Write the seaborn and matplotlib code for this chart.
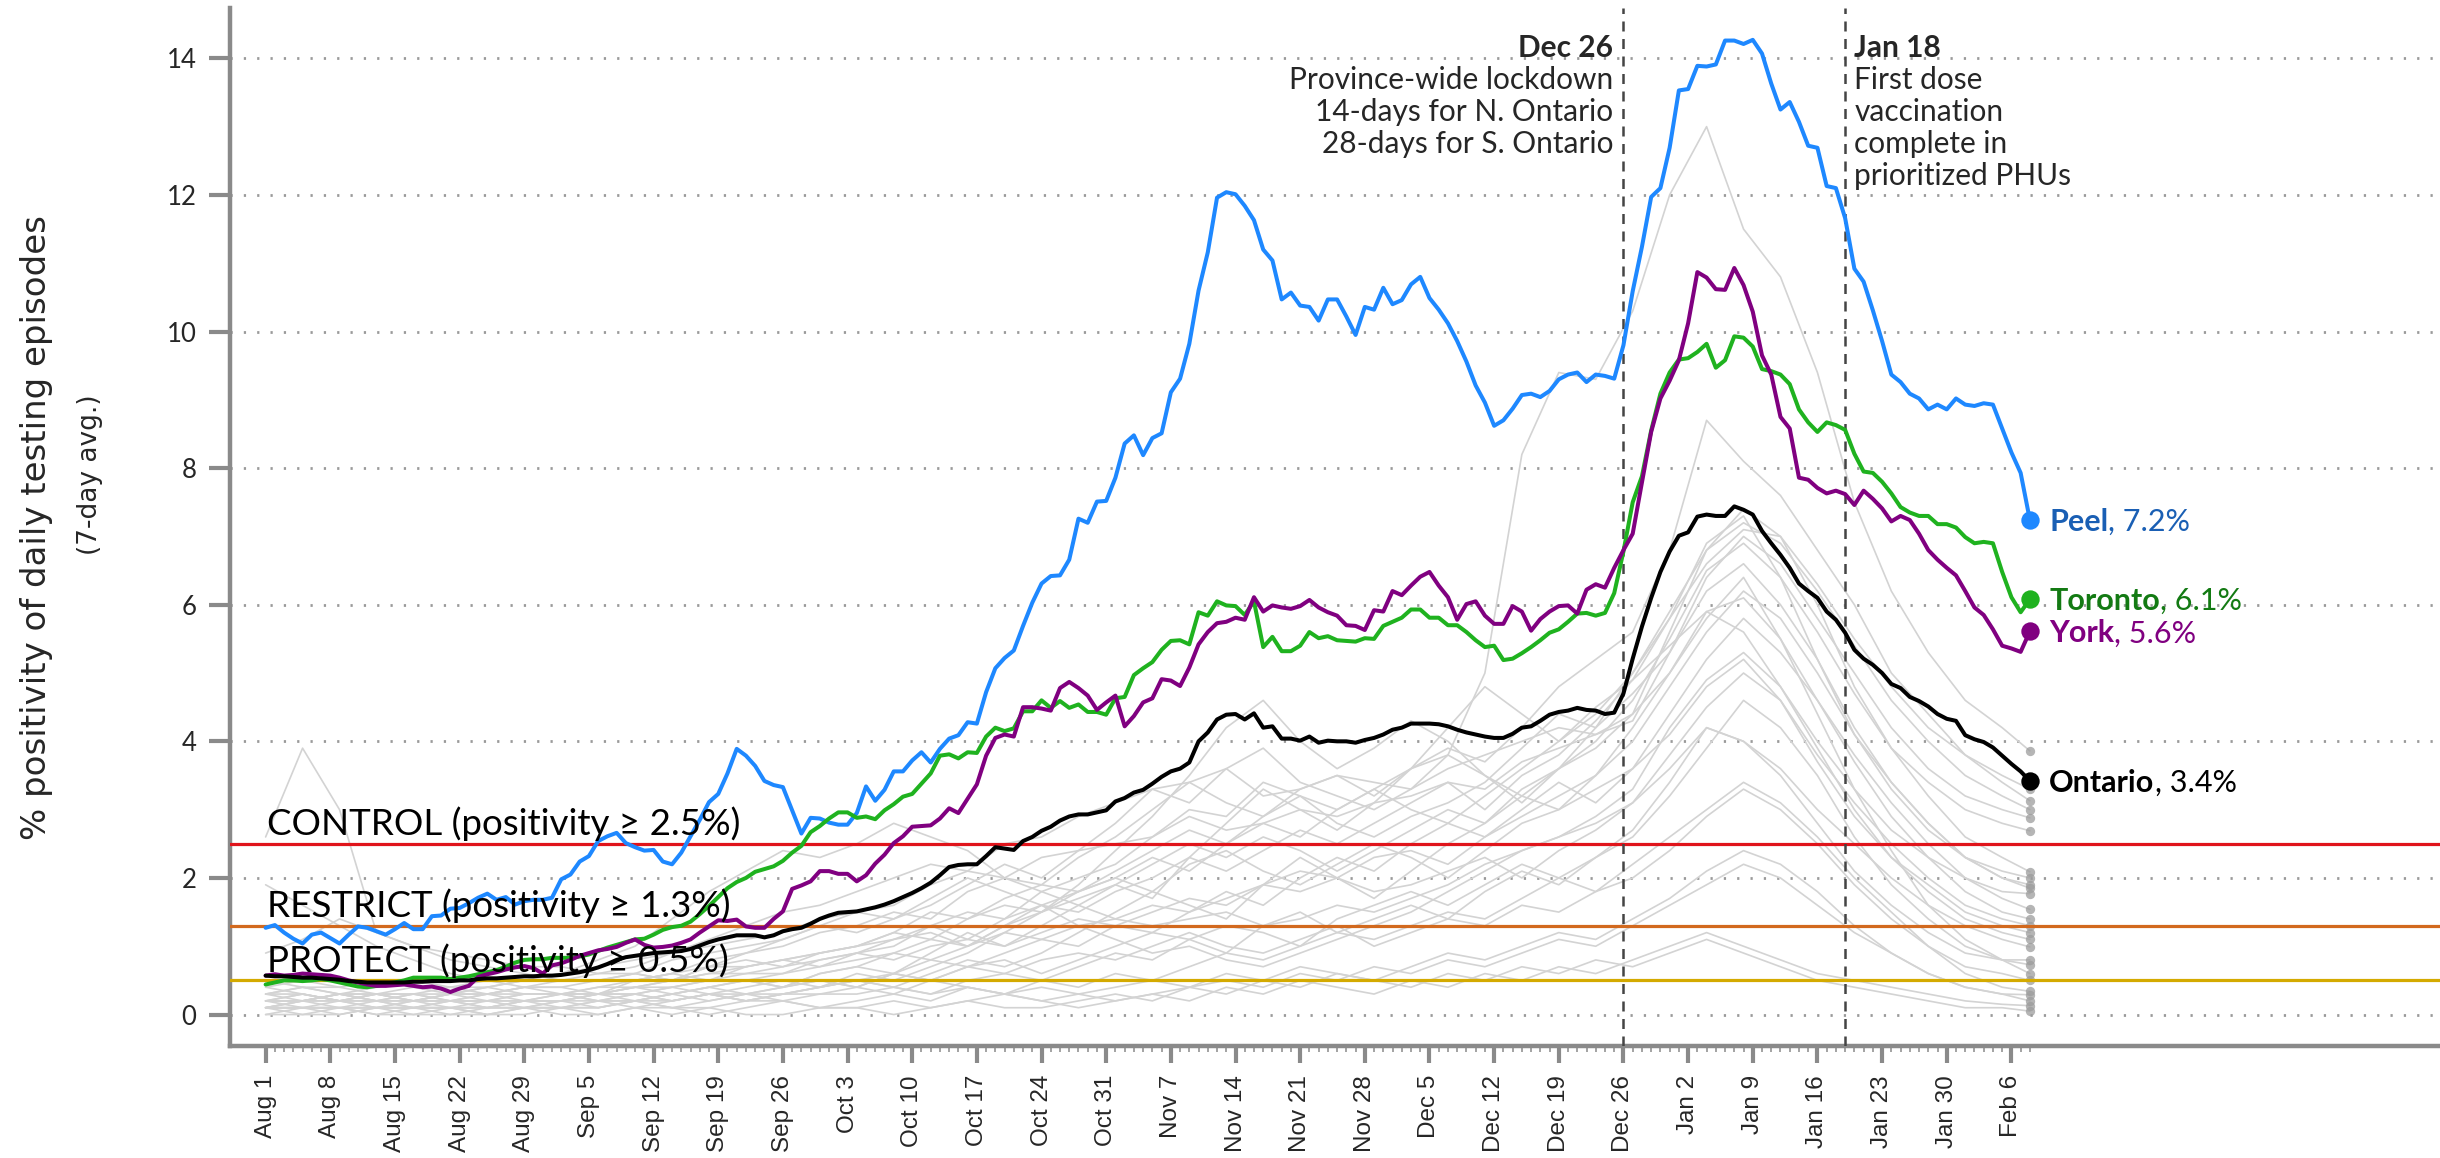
import pandas as pd
import matplotlib
matplotlib.use("Agg")
import matplotlib.pyplot as plt
import matplotlib.dates as mdates
from matplotlib.ticker import FixedLocator
import seaborn as sns

# --- data (7-day avg. % positivity) ---
START = "2020-08-01"
END = "2021-02-08"

PEEL = [
    1.27, 1.31, 1.20, 1.11, 1.04, 1.17, 1.20, 1.12, 1.04, 1.17,
    1.29, 1.27, 1.22, 1.17, 1.25, 1.34, 1.25, 1.25, 1.44, 1.45,
    1.55, 1.56, 1.63, 1.71, 1.77, 1.68, 1.72, 1.61, 1.66, 1.68,
    1.68, 1.71, 1.98, 2.05, 2.24, 2.32, 2.54, 2.61, 2.66, 2.51,
    2.45, 2.40, 2.41, 2.24, 2.20, 2.37, 2.61, 2.85, 3.11, 3.23,
    3.53, 3.89, 3.79, 3.64, 3.42, 3.36, 3.33, 2.99, 2.65, 2.88,
    2.87, 2.81, 2.78, 2.78, 2.95, 3.34, 3.13, 3.29, 3.56, 3.56,
    3.72, 3.84, 3.69, 3.89, 4.04, 4.09, 4.28, 4.26, 4.72, 5.07,
    5.22, 5.33, 5.69, 6.03, 6.31, 6.42, 6.43, 6.66, 7.26, 7.20,
    7.51, 7.52, 7.86, 8.36, 8.48, 8.19, 8.44, 8.51, 9.11, 9.31,
    9.82, 10.60, 11.16, 11.96, 12.04, 12.01, 11.84, 11.63, 11.20, 11.04,
    10.47, 10.57, 10.38, 10.36, 10.16, 10.47, 10.47, 10.22, 9.95, 10.36,
    10.32, 10.64, 10.40, 10.46, 10.69, 10.80, 10.49, 10.32, 10.12, 9.86,
    9.56, 9.21, 8.96, 8.62, 8.70, 8.87, 9.07, 9.09, 9.04, 9.13,
    9.30, 9.37, 9.40, 9.26, 9.37, 9.35, 9.31, 9.80, 10.59, 11.24,
    11.97, 12.10, 12.69, 13.53, 13.55, 13.89, 13.88, 13.91, 14.26, 14.26,
    14.21, 14.27, 14.07, 13.63, 13.25, 13.36, 13.07, 12.72, 12.69, 12.13,
    12.10, 11.66, 10.92, 10.73, 10.31, 9.86, 9.37, 9.26, 9.09, 9.02,
    8.86, 8.93, 8.86, 9.02, 8.93, 8.91, 8.95, 8.93, 8.58, 8.23,
    7.93, 7.24,
]
TORONTO = [
    0.44, 0.47, 0.50, 0.50, 0.49, 0.50, 0.52, 0.50, 0.47, 0.44,
    0.41, 0.40, 0.42, 0.45, 0.47, 0.50, 0.54, 0.54, 0.54, 0.54,
    0.52, 0.54, 0.56, 0.59, 0.62, 0.65, 0.70, 0.76, 0.80, 0.81,
    0.81, 0.83, 0.83, 0.83, 0.85, 0.88, 0.93, 0.98, 1.02, 1.06,
    1.10, 1.11, 1.17, 1.24, 1.28, 1.30, 1.36, 1.47, 1.59, 1.72,
    1.85, 1.94, 2.00, 2.09, 2.13, 2.17, 2.25, 2.37, 2.47, 2.67,
    2.76, 2.87, 2.96, 2.96, 2.88, 2.90, 2.86, 2.99, 3.08, 3.19,
    3.23, 3.38, 3.53, 3.79, 3.81, 3.75, 3.84, 3.83, 4.07, 4.20,
    4.15, 4.19, 4.44, 4.44, 4.60, 4.49, 4.59, 4.49, 4.54, 4.43,
    4.43, 4.39, 4.63, 4.65, 4.97, 5.07, 5.16, 5.34, 5.47, 5.48,
    5.42, 5.89, 5.84, 6.05, 5.99, 5.98, 5.85, 6.05, 5.38, 5.53,
    5.32, 5.32, 5.40, 5.60, 5.51, 5.54, 5.48, 5.47, 5.46, 5.51,
    5.50, 5.69, 5.75, 5.81, 5.93, 5.93, 5.81, 5.81, 5.70, 5.70,
    5.60, 5.48, 5.38, 5.40, 5.19, 5.21, 5.29, 5.38, 5.48, 5.59,
    5.64, 5.75, 5.87, 5.88, 5.84, 5.88, 6.17, 6.78, 7.50, 7.88,
    8.55, 9.09, 9.40, 9.59, 9.61, 9.70, 9.82, 9.47, 9.58, 9.93,
    9.91, 9.78, 9.45, 9.42, 9.37, 9.23, 8.86, 8.67, 8.53, 8.67,
    8.63, 8.56, 8.21, 7.95, 7.93, 7.80, 7.63, 7.43, 7.35, 7.30,
    7.30, 7.18, 7.18, 7.13, 6.99, 6.90, 6.92, 6.90, 6.48, 6.11,
    5.89, 6.08,
]
YORK = [
    0.57, 0.59, 0.57, 0.58, 0.60, 0.59, 0.58, 0.57, 0.54, 0.50,
    0.47, 0.44, 0.42, 0.42, 0.43, 0.44, 0.42, 0.40, 0.41, 0.38,
    0.33, 0.38, 0.42, 0.55, 0.59, 0.62, 0.66, 0.69, 0.71, 0.68,
    0.60, 0.72, 0.75, 0.80, 0.86, 0.90, 0.94, 0.96, 0.99, 1.05,
    1.10, 1.02, 0.98, 0.99, 1.01, 1.05, 1.10, 1.20, 1.29, 1.38,
    1.37, 1.39, 1.29, 1.27, 1.27, 1.40, 1.51, 1.84, 1.89, 1.95,
    2.10, 2.10, 2.06, 2.06, 1.95, 2.04, 2.21, 2.34, 2.51, 2.61,
    2.75, 2.76, 2.77, 2.87, 3.02, 2.95, 3.16, 3.37, 3.79, 4.05,
    4.10, 4.07, 4.50, 4.50, 4.48, 4.45, 4.78, 4.87, 4.78, 4.67,
    4.46, 4.57, 4.67, 4.22, 4.37, 4.57, 4.63, 4.91, 4.89, 4.81,
    5.08, 5.42, 5.60, 5.73, 5.75, 5.81, 5.78, 6.11, 5.90, 5.99,
    5.96, 5.94, 5.98, 6.07, 5.96, 5.89, 5.84, 5.70, 5.69, 5.63,
    5.92, 5.90, 6.20, 6.14, 6.28, 6.41, 6.48, 6.28, 6.11, 5.78,
    6.01, 6.05, 5.84, 5.72, 5.72, 5.98, 5.90, 5.62, 5.79, 5.90,
    5.98, 5.99, 5.87, 6.22, 6.30, 6.25, 6.54, 6.80, 7.04, 7.79,
    8.53, 9.02, 9.28, 9.58, 10.12, 10.87, 10.79, 10.62, 10.61, 10.93,
    10.68, 10.29, 9.65, 9.37, 8.75, 8.58, 7.86, 7.83, 7.71, 7.63,
    7.67, 7.62, 7.46, 7.67, 7.55, 7.41, 7.22, 7.30, 7.24, 7.04,
    6.80, 6.66, 6.54, 6.43, 6.20, 5.96, 5.85, 5.64, 5.40, 5.36,
    5.31, 5.61,
]
ONTARIO = [
    0.57, 0.56, 0.56, 0.55, 0.54, 0.54, 0.53, 0.52, 0.51, 0.49,
    0.48, 0.47, 0.47, 0.47, 0.47, 0.47, 0.48, 0.48, 0.49, 0.49,
    0.49, 0.50, 0.50, 0.52, 0.53, 0.53, 0.54, 0.55, 0.56, 0.56,
    0.57, 0.57, 0.58, 0.60, 0.62, 0.65, 0.69, 0.74, 0.80, 0.84,
    0.86, 0.88, 0.90, 0.91, 0.92, 0.93, 0.96, 1.01, 1.06, 1.10,
    1.13, 1.16, 1.16, 1.16, 1.13, 1.16, 1.22, 1.25, 1.27, 1.33,
    1.40, 1.45, 1.49, 1.50, 1.51, 1.54, 1.57, 1.61, 1.66, 1.72,
    1.78, 1.85, 1.93, 2.04, 2.16, 2.19, 2.20, 2.20, 2.32, 2.45,
    2.43, 2.41, 2.54, 2.60, 2.69, 2.75, 2.84, 2.90, 2.93, 2.93,
    2.96, 2.99, 3.12, 3.17, 3.25, 3.29, 3.38, 3.48, 3.56, 3.60,
    3.69, 4.00, 4.13, 4.32, 4.39, 4.40, 4.32, 4.41, 4.20, 4.22,
    4.04, 4.04, 4.01, 4.07, 3.98, 4.01, 4.00, 4.00, 3.98, 4.02,
    4.05, 4.10, 4.17, 4.20, 4.26, 4.26, 4.26, 4.25, 4.22, 4.17,
    4.13, 4.10, 4.07, 4.05, 4.05, 4.11, 4.20, 4.22, 4.30, 4.39,
    4.43, 4.45, 4.49, 4.46, 4.45, 4.40, 4.42, 4.70, 5.21, 5.68,
    6.10, 6.48, 6.78, 7.01, 7.06, 7.29, 7.32, 7.30, 7.30, 7.44,
    7.39, 7.32, 7.08, 6.90, 6.73, 6.54, 6.31, 6.20, 6.10, 5.90,
    5.78, 5.59, 5.34, 5.21, 5.12, 5.00, 4.84, 4.78, 4.65, 4.59,
    4.51, 4.40, 4.33, 4.30, 4.09, 4.03, 3.99, 3.91, 3.79, 3.67,
    3.56, 3.42,
]

# other public health units, sampled every 4 days (+ last day)
GREY_DAYS = list(range(0, 189, 4)) + [191]
GREY_01 = [2.6, 3.9, 3.0, 1.2, 1.0, 0.9, 0.8, 0.7, 0.7, 0.6, 0.6, 0.5, 0.6, 0.7, 0.8, 0.9,
           1.0, 1.1, 1.3, 1.5, 1.4, 1.8, 2.0, 2.2, 2.6, 3.0, 2.9, 3.4, 3.2, 3.0, 3.3,
           3.6, 3.8, 5.0, 8.2, 9.4, 9.3, 10.3, 12.0, 13.0, 11.5, 10.8, 9.4, 7.5, 6.2, 5.3, 4.6, 4.2, 3.86]
GREY_02 = [0.3, 0.3, 0.2, 0.3, 0.2, 0.2, 0.3, 0.3, 0.3, 0.4, 0.5, 0.6, 0.8, 0.9, 1.0, 1.2,
           1.3, 1.5, 1.4, 1.8, 2.0, 1.9, 2.3, 2.6, 3.0, 3.4, 3.1, 2.9, 3.3, 3.5, 3.2,
           3.6, 3.9, 3.7, 4.2, 4.8, 5.2, 5.6, 6.8, 8.7, 8.1, 7.6, 6.8, 6.0, 5.0, 4.4, 3.8, 3.4, 3.13]
GREY_03 = [0.5, 0.4, 0.4, 0.3, 0.3, 0.4, 0.4, 0.5, 0.6, 0.7, 0.8, 0.9, 1.1, 1.3, 1.5, 1.6,
           1.8, 2.0, 2.2, 2.1, 2.5, 2.6, 2.9, 3.1, 3.3, 3.4, 3.6, 3.2, 3.3, 3.5, 3.4,
           3.3, 3.6, 3.8, 4.0, 4.2, 4.1, 4.4, 5.6, 6.8, 7.2, 6.9, 6.2, 5.4, 4.6, 4.0, 3.5, 3.2, 3.0]
GREY_04 = [0.4, 0.5, 0.4, 0.5, 0.4, 0.4, 0.5, 0.5, 0.5, 0.6, 0.7, 0.9, 1.0, 1.1, 1.2, 1.4,
           1.5, 1.6, 1.9, 2.1, 2.0, 2.3, 2.4, 2.5, 2.6, 2.9, 2.7, 2.8, 3.0, 2.9, 3.1,
           3.2, 3.4, 3.3, 3.7, 3.9, 4.1, 4.3, 5.3, 6.4, 7.0, 6.6, 5.8, 5.0, 4.2, 3.6, 3.2, 3.0, 2.88]
GREY_05 = [0.3, 0.4, 0.3, 0.4, 0.5, 0.4, 0.3, 0.4, 0.5, 0.5, 0.6, 0.8, 0.9, 1.0, 1.1, 1.3,
           1.2, 1.4, 1.6, 1.9, 2.2, 2.0, 2.4, 2.8, 3.3, 3.1, 3.6, 3.9, 3.4, 3.2, 3.0,
           3.3, 3.8, 3.5, 3.1, 3.6, 4.0, 4.6, 5.5, 6.5, 6.9, 6.4, 5.6, 4.7, 3.9, 3.4, 3.0, 2.8, 2.69]
GREY_06 = [0.2, 0.2, 0.3, 0.2, 0.2, 0.3, 0.3, 0.4, 0.4, 0.5, 0.5, 0.6, 0.7, 0.7, 0.8, 0.9,
           1.0, 1.2, 1.1, 1.4, 1.6, 1.5, 1.8, 2.0, 2.3, 2.1, 2.5, 2.8, 2.6, 3.0, 3.3,
           3.0, 2.8, 3.2, 3.6, 4.0, 4.4, 5.0, 5.9, 6.8, 7.4, 7.0, 6.0, 4.8, 3.9, 3.2, 2.6, 2.3, 2.09]
GREY_07 = [0.1, 0.2, 0.2, 0.1, 0.2, 0.2, 0.1, 0.2, 0.2, 0.3, 0.2, 0.3, 0.4, 0.5, 0.4, 0.6,
           0.7, 0.9, 1.1, 1.0, 1.3, 1.6, 1.8, 2.1, 2.4, 2.7, 2.5, 2.9, 3.2, 2.8, 2.6,
           2.9, 3.1, 3.4, 3.9, 4.4, 4.2, 4.7, 5.3, 6.2, 6.6, 6.0, 5.2, 4.2, 3.4, 2.8, 2.3, 2.0, 1.90]
GREY_08 = [0.2, 0.3, 0.2, 0.2, 0.3, 0.2, 0.2, 0.3, 0.3, 0.3, 0.4, 0.4, 0.5, 0.6, 0.6, 0.8,
           0.9, 0.8, 1.0, 1.1, 1.0, 1.2, 1.4, 1.3, 1.5, 1.7, 1.6, 1.9, 2.1, 2.0, 2.3,
           2.4, 2.2, 2.6, 2.9, 3.2, 3.5, 4.0, 4.8, 5.6, 6.2, 5.8, 5.0, 4.1, 3.4, 2.8, 2.3, 2.0, 1.85]
GREY_09 = [0.1, 0.2, 0.2, 0.2, 0.3, 0.3, 0.4, 0.5, 0.6, 0.8, 1.0, 1.4, 1.8, 2.1, 2.4, 2.3,
           2.5, 2.8, 2.6, 2.4, 2.0, 1.8, 1.6, 1.4, 1.3, 1.4, 1.5, 1.3, 1.4, 1.6, 1.5,
           1.7, 1.9, 2.2, 2.4, 2.6, 2.9, 3.3, 4.2, 4.9, 5.3, 4.8, 4.0, 3.3, 2.7, 2.3, 2.0, 1.8, 1.77]
GREY_10 = [0.1, 0.1, 0.2, 0.1, 0.1, 0.2, 0.1, 0.1, 0.2, 0.2, 0.3, 0.2, 0.3, 0.3, 0.4, 0.5,
           0.4, 0.6, 0.8, 0.7, 0.9, 1.1, 1.0, 1.3, 1.2, 1.5, 1.8, 1.6, 2.0, 2.3, 2.1,
           2.5, 2.8, 2.6, 3.0, 3.4, 3.1, 3.6, 4.4, 5.2, 5.8, 5.3, 4.6, 3.8, 3.1, 2.5, 2.0, 1.7, 1.54]
GREY_11 = [0.2, 0.2, 0.3, 0.3, 0.2, 0.2, 0.3, 0.2, 0.2, 0.3, 0.3, 0.4, 0.5, 0.5, 0.6, 0.7,
           0.8, 0.9, 0.8, 1.0, 1.2, 1.1, 1.3, 1.4, 1.6, 1.5, 1.7, 1.9, 1.8, 2.0, 1.8,
           1.9, 2.1, 2.3, 2.0, 2.4, 2.7, 3.1, 3.8, 4.5, 5.0, 4.6, 3.8, 3.1, 2.5, 2.0, 1.6, 1.4, 1.30]
GREY_12 = [0.9, 1.1, 1.4, 1.2, 1.0, 0.8, 0.7, 0.6, 0.5, 0.5, 0.6, 0.5, 0.7, 0.8, 0.7, 0.9,
           1.0, 1.2, 1.5, 1.4, 1.7, 1.9, 1.8, 2.0, 1.8, 2.2, 2.4, 2.1, 1.9, 2.2, 2.5,
           2.3, 2.0, 2.4, 2.8, 3.0, 3.3, 3.6, 4.1, 4.8, 5.2, 4.6, 3.7, 2.9, 2.3, 1.9, 1.5, 1.3, 1.20]
GREY_13 = [0.1, 0.1, 0.1, 0.1, 0.1, 0.1, 0.2, 0.1, 0.2, 0.3, 0.4, 0.5, 0.7, 0.9, 1.1, 1.3,
           1.5, 1.4, 1.7, 2.0, 1.8, 1.6, 1.3, 1.1, 0.9, 1.0, 0.8, 0.7, 0.9, 1.1, 1.3,
           1.5, 1.8, 2.1, 2.4, 2.6, 2.8, 3.1, 3.6, 4.2, 4.0, 3.6, 3.0, 2.5, 2.0, 1.6, 1.3, 1.1, 0.99]
GREY_14 = [0.2, 0.1, 0.1, 0.2, 0.1, 0.1, 0.1, 0.2, 0.1, 0.2, 0.2, 0.1, 0.2, 0.3, 0.2, 0.3,
           0.3, 0.4, 0.3, 0.5, 0.6, 0.5, 0.7, 0.9, 0.8, 1.1, 1.3, 1.2, 1.0, 1.4, 1.6,
           1.8, 1.6, 1.9, 2.2, 2.0, 2.3, 2.6, 3.2, 3.9, 4.6, 4.2, 3.5, 2.6, 1.9, 1.4, 1.0, 0.8, 0.73]
GREY_15 = [1.9, 1.6, 1.3, 1.0, 0.8, 0.6, 0.5, 0.4, 0.3, 0.3, 0.3, 0.2, 0.3, 0.2, 0.3, 0.4,
           0.5, 0.4, 0.6, 0.8, 0.7, 0.9, 1.2, 1.5, 1.8, 1.6, 1.4, 1.9, 2.3, 2.0, 1.7,
           2.1, 2.5, 2.8, 3.2, 3.0, 3.5, 4.2, 5.0, 5.8, 6.4, 5.5, 4.4, 3.3, 2.4, 1.6, 1.1, 0.8, 0.60]
GREY_16 = [0.1, 0.1, 0.1, 0.1, 0.1, 0.1, 0.1, 0.1, 0.1, 0.1, 0.2, 0.1, 0.1, 0.2, 0.2, 0.1,
           0.2, 0.3, 0.2, 0.4, 0.3, 0.5, 0.4, 0.6, 0.5, 0.7, 0.9, 0.8, 1.0, 1.2, 1.1,
           1.3, 1.5, 1.4, 1.7, 2.0, 1.8, 2.2, 2.6, 3.0, 3.4, 3.1, 2.6, 2.0, 1.5, 1.0, 0.6, 0.4, 0.34]
GREY_17 = [0.1, 0.1, 0.0, 0.1, 0.1, 0.0, 0.1, 0.1, 0.1, 0.2, 0.1, 0.2, 0.3, 0.2, 0.3, 0.4,
           0.5, 0.4, 0.3, 0.4, 0.3, 0.2, 0.3, 0.2, 0.3, 0.4, 0.5, 0.4, 0.6, 0.5, 0.7,
           0.6, 0.8, 0.7, 0.9, 1.1, 1.0, 1.3, 1.6, 1.9, 2.2, 2.0, 1.6, 1.2, 0.9, 0.6, 0.4, 0.3, 0.29]
GREY_18 = [0.0, 0.0, 0.1, 0.0, 0.0, 0.1, 0.0, 0.0, 0.1, 0.0, 0.1, 0.1, 0.0, 0.1, 0.2, 0.1,
           0.1, 0.2, 0.1, 0.2, 0.3, 0.2, 0.1, 0.2, 0.3, 0.2, 0.4, 0.3, 0.5, 0.4, 0.3,
           0.5, 0.4, 0.6, 0.5, 0.7, 0.6, 0.8, 1.0, 1.2, 1.0, 0.8, 0.6, 0.5, 0.4, 0.3, 0.2, 0.15, 0.13]
GREY_19 = [0.1, 0.0, 0.0, 0.1, 0.0, 0.0, 0.0, 0.1, 0.0, 0.0, 0.1, 0.0, 0.1, 0.0, 0.0, 0.1,
           0.1, 0.0, 0.1, 0.2, 0.1, 0.1, 0.2, 0.3, 0.2, 0.4, 0.3, 0.5, 0.4, 0.6, 0.5,
           0.4, 0.6, 0.5, 0.7, 0.6, 0.8, 0.7, 0.9, 1.1, 0.9, 0.7, 0.5, 0.4, 0.3, 0.2, 0.1, 0.1, 0.05]
GREY_20 = [0.3, 0.2, 0.3, 0.2, 0.2, 0.3, 0.2, 0.2, 0.3, 0.2, 0.3, 0.4, 0.3, 0.4, 0.5, 0.4,
           0.6, 0.5, 0.7, 0.9, 1.2, 1.5, 1.9, 2.4, 2.9, 3.5, 4.2, 4.6, 4.0, 3.6, 3.9,
           4.3, 4.0, 3.5, 3.2, 3.6, 4.2, 5.0, 5.8, 6.9, 7.3, 6.4, 5.2, 4.1, 3.3, 2.7, 2.3, 2.1, 2.0]
GREY_21 = [0.3, 0.4, 0.3, 0.3, 0.2, 0.3, 0.4, 0.3, 0.3, 0.4, 0.4, 0.5, 0.6, 0.6, 0.7, 0.8,
           0.9, 1.1, 1.2, 1.0, 1.3, 1.5, 1.7, 1.9, 2.2, 2.5, 2.3, 2.6, 2.4, 2.1, 2.4,
           2.7, 3.0, 2.8, 3.3, 3.6, 3.9, 4.4, 5.0, 5.9, 6.1, 5.5, 4.6, 3.7, 2.9, 2.3, 1.8, 1.5, 1.4]
GREY_22 = [0.4, 0.3, 0.2, 0.3, 0.3, 0.2, 0.2, 0.3, 0.3, 0.3, 0.4, 0.3, 0.4, 0.5, 0.4, 0.6,
           0.7, 0.6, 0.9, 1.2, 1.0, 1.3, 1.6, 1.9, 1.7, 2.3, 2.8, 3.3, 3.0, 2.7, 3.1,
           3.6, 4.2, 4.8, 4.4, 4.0, 4.5, 4.9, 5.4, 5.9, 5.6, 4.8, 3.9, 3.0, 2.3, 1.8, 1.4, 1.2, 1.1]
GREY_23 = [0.2, 0.2, 0.3, 0.2, 0.1, 0.2, 0.2, 0.2, 0.3, 0.2, 0.2, 0.3, 0.4, 0.3, 0.4, 0.5,
           0.4, 0.6, 0.5, 0.7, 0.8, 0.6, 0.8, 1.0, 1.2, 1.1, 0.9, 1.3, 1.5, 1.2, 1.4,
           1.6, 1.4, 1.8, 2.1, 1.9, 2.3, 2.7, 3.4, 4.2, 4.0, 3.5, 2.8, 2.1, 1.6, 1.2, 0.9, 0.8, 0.8]
GREY_24 = [0.1, 0.2, 0.1, 0.1, 0.2, 0.1, 0.1, 0.2, 0.2, 0.1, 0.2, 0.3, 0.2, 0.3, 0.3, 0.4,
           0.5, 0.6, 0.5, 0.7, 0.6, 0.8, 0.9, 0.8, 1.0, 1.2, 1.0, 0.9, 1.1, 1.3, 1.0,
           1.2, 1.4, 1.3, 1.6, 1.5, 1.8, 2.0, 2.4, 2.9, 3.3, 3.0, 2.5, 1.9, 1.4, 1.0, 0.7, 0.6, 0.5]
GREY_25 = [0.0, 0.1, 0.1, 0.0, 0.1, 0.1, 0.0, 0.1, 0.1, 0.1, 0.2, 0.2, 0.3, 0.2, 0.3, 0.3,
           0.4, 0.3, 0.5, 0.4, 0.3, 0.4, 0.3, 0.4, 0.5, 0.4, 0.6, 0.5, 0.7, 0.6, 0.5,
           0.7, 0.9, 0.8, 1.0, 1.2, 1.1, 1.4, 1.7, 2.1, 2.4, 2.2, 1.8, 1.3, 0.9, 0.6, 0.4, 0.3, 0.2]
GREY_26 = [0.2, 0.3, 0.2, 0.3, 0.4, 0.3, 0.3, 0.4, 0.4, 0.3, 0.5, 0.6, 0.5, 0.7, 0.8, 0.7,
           0.9, 1.0, 1.3, 1.1, 1.4, 1.6, 1.5, 1.8, 2.0, 2.3, 2.1, 2.4, 2.7, 2.5, 2.8,
           3.1, 3.4, 3.0, 3.5, 3.8, 4.3, 4.9, 5.8, 6.6, 7.1, 7.0, 6.3, 5.5, 4.8, 4.2, 3.8, 3.5, 3.3]
GREY_SERIES = [GREY_01, GREY_02, GREY_03, GREY_04, GREY_05, GREY_06, GREY_07, GREY_08,
               GREY_09, GREY_10, GREY_11, GREY_12, GREY_13, GREY_14, GREY_15, GREY_16,
               GREY_17, GREY_18, GREY_19, GREY_20, GREY_21, GREY_22, GREY_23, GREY_24,
               GREY_25, GREY_26]

HIGHLIGHT_NAMES = ["Peel", "Toronto", "York", "Ontario"]
HIGHLIGHT_VALUES = [PEEL, TORONTO, YORK, ONTARIO]
LINE_COLORS = ["#1e88ff", "#1fb21f", "#800080", "#000000"]
LABEL_COLORS = ["#1a5fb4", "#137a13", "#800080", "#000000"]

THRESHOLDS = [2.5, 1.3, 0.5]
THRESHOLD_LABELS = ["CONTROL (positivity \u2265 2.5%)",
                    "RESTRICT (positivity \u2265 1.3%)",
                    "PROTECT (positivity \u2265 0.5%)"]
THRESHOLD_COLORS = ["#e0141b", "#d2691e", "#d4aa00"]

EVENT_DATES = ["2020-12-26", "2021-01-19"]
DEC26_NOTE = ["Dec 26", "Province-wide lockdown", "14-days for N. Ontario", "28-days for S. Ontario"]
JAN18_NOTE = ["Jan 18", "First dose", "vaccination", "complete in", "prioritized PHUs"]

Y_LABEL = "% positivity of daily testing episodes"
Y_SUBLABEL = "(7-day avg.)"

# --- style ---
sns.set_style("ticks")
plt.rcParams["font.family"] = ["DejaVu Sans"]
NARROW = ["Lato", "DejaVu Sans"]
ARIAL = ["Liberation Sans", "DejaVu Sans"]
AXIS_GREY = "#8a8a8a"

dates = pd.date_range(START, END)
base = mdates.date2num(dates[0])

fig = plt.figure(figsize=(24.4, 11.58), dpi=100)
ax = fig.add_axes([0.0941, 0.0971, 0.9059, 0.8956])

# dotted horizontal grid
for yv in range(0, 15, 2):
    ax.axhline(yv, color="#9a9a9a", lw=2.0, linestyle=(0, (0.8, 4.0)), zorder=0)

# grey PHU lines
rows = []
for i, vals in enumerate(GREY_SERIES):
    for d, v in zip(GREY_DAYS, vals):
        rows.append({"date": dates[0] + pd.Timedelta(days=d), "value": v, "phu": i})
grey_df = pd.DataFrame(rows)
sns.lineplot(data=grey_df, x="date", y="value", units="phu", estimator=None,
             color="#d3d3d3", lw=1.2, ax=ax, zorder=1)
ax.scatter([dates[-1]] * len(GREY_SERIES), [s[-1] for s in GREY_SERIES],
           s=45, color="#9c9c9c", alpha=0.75, lw=0, zorder=2)

# thresholds
for yv, col in zip(THRESHOLDS, THRESHOLD_COLORS):
    ax.axhline(yv, color=col, lw=2.3, zorder=3)

# event lines
for ev in EVENT_DATES:
    ax.axvline(pd.Timestamp(ev), color="#444444", lw=1.8, dashes=(4, 3), zorder=3)

# highlighted series
for name, vals, lc, tc in zip(HIGHLIGHT_NAMES, HIGHLIGHT_VALUES, LINE_COLORS, LABEL_COLORS):
    sns.lineplot(x=dates, y=vals, color=lc, lw=2.9, ax=ax, zorder=5)
    ax.scatter([dates[-1]], [vals[-1]], s=175, color=lc, lw=0, zorder=6)
    t1 = ax.text(base + 193.1, vals[-1] - 0.16, name, color=tc, fontsize=22,
                 fontweight="bold", family=NARROW, ha="left", va="baseline", zorder=7)
    ax.annotate(f", {vals[-1]:.1f}%", xy=(1, 0), xycoords=t1, color=tc, fontsize=22,
                family=NARROW, ha="left", va="bottom", zorder=7)

# threshold labels
for yv, lab in zip([2.63, 1.43, 0.625], THRESHOLD_LABELS):
    ax.text(base + 0.1, yv, lab, fontsize=26.5, family=NARROW, ha="left",
            va="baseline", color="black", zorder=8)

# event notes
note_y = [14.02, 13.55, 13.08, 12.61, 12.14]
for i, line in enumerate(DEC26_NOTE):
    ax.text(base + 145.9, note_y[i], line, fontsize=21.5, family=NARROW, ha="right",
            va="baseline", fontweight="bold" if i == 0 else "normal", zorder=8)
for i, line in enumerate(JAN18_NOTE):
    ax.text(base + 172.0, note_y[i], line, fontsize=21.5, family=NARROW, ha="left",
            va="baseline", fontweight="bold" if i == 0 else "normal", zorder=8)

# axes
ax.set_xlim(base - 3.9, base + 235.4)
ax.set_ylim(-0.454, 14.73)
ax.set_xlabel("")
ax.set_ylabel("")

major = [d for d in dates if (d - dates[0]).days % 7 == 0]
ax.xaxis.set_major_locator(FixedLocator(mdates.date2num(major)))
ax.xaxis.set_major_formatter(mdates.DateFormatter("%b %-d"))
ax.xaxis.set_minor_locator(FixedLocator(mdates.date2num(dates)))
ax.tick_params(axis="x", which="major", length=12.2, width=3, color=AXIS_GREY,
               pad=9, labelsize=17.5, labelrotation=90)
ax.tick_params(axis="x", which="minor", length=4.6, width=1.1, color=AXIS_GREY)
for lbl in ax.get_xticklabels():
    lbl.set_family(ARIAL)

ax.set_yticks(range(0, 15, 2))
ax.tick_params(axis="y", which="major", length=15, width=3, color=AXIS_GREY,
               pad=9, labelsize=18.5)
for lbl in ax.get_yticklabels():
    lbl.set_family(NARROW)

for side in ["top", "right"]:
    ax.spines[side].set_visible(False)
for side in ["left", "bottom"]:
    ax.spines[side].set_color(AXIS_GREY)
    ax.spines[side].set_linewidth(3.2)

fig.text(0.0148, 0.5445, Y_LABEL, rotation=90, fontsize=24.5, ha="center", va="center")
fig.text(0.037, 0.59, Y_SUBLABEL, rotation=90, fontsize=19, ha="center", va="center")

fig.savefig("out.png", dpi=100)
plt.close(fig)
